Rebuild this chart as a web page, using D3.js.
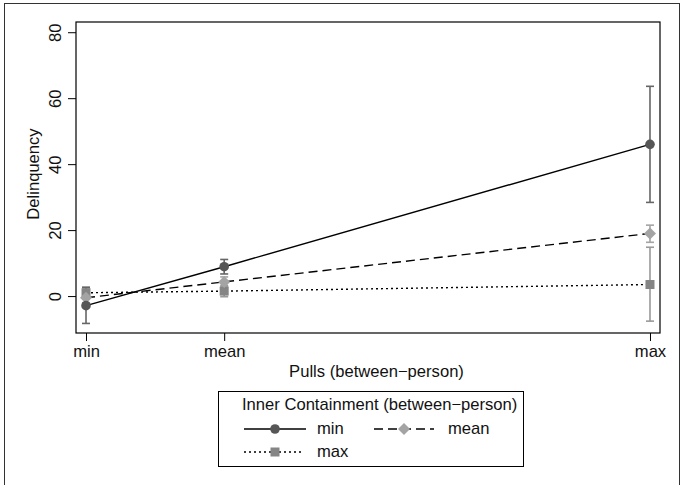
<!DOCTYPE html>
<html><head><meta charset="utf-8">
<script src="https://cdn.jsdelivr.net/npm/d3@7"></script>
<style>body{margin:0;background:#fff}svg{display:block}text{font-family:"Liberation Sans",Arial,Helvetica,sans-serif;fill:#111}</style>
</head><body><svg id="c" width="683" height="485"></svg>
<script>
const xCategories = ["min", "mean", "max"];
const xValues = [1, 1.98, 5];
const yTicks = [0, 20, 40, 60, 80];
const seriesNames = ["min", "mean", "max"];
const minEst = [-2.9, 8.9, 46.0];
const minLo = [-8.3, 6.7, 28.4];
const minHi = [2.5, 11.1, 63.6];
const meanEst = [-0.5, 4.3, 19.0];
const meanLo = [-2.0, 2.8, 16.3];
const meanHi = [1.0, 5.8, 21.5];
const maxEst = [1.0, 1.5, 3.5];
const maxLo = [-0.8, -0.2, -7.6];
const maxHi = [2.8, 3.2, 14.8];

const FS = 16.6;
const svg = d3.select("#c");
const L = 76, R = 660, T = 22, B = 333;
const x = d3.scaleLinear().domain([0.929, 5.071]).range([L, R]);
const y = d3.scaleLinear().domain([-11.2, 83.1]).range([B, T]);

// outer border
svg.append("rect").attr("x", 4.5).attr("y", 3.5).attr("width", 675).attr("height", 490)
  .attr("fill", "none").attr("stroke", "#333").attr("stroke-width", 1);

// plot frame
svg.append("rect").attr("x", L).attr("y", T).attr("width", R - L).attr("height", B - T)
  .attr("fill", "none").attr("stroke", "#000").attr("stroke-width", 1.2);

// y axis
const ya = svg.append("g").attr("transform", `translate(${L},0)`)
  .call(d3.axisLeft(y).tickValues(yTicks).tickSize(8).tickFormat(d3.format("d")));
ya.select(".domain").remove();
ya.selectAll(".tick line").attr("stroke", "#000");
ya.selectAll(".tick text")
  .attr("font-size", FS).attr("font-family", null).attr("fill", "#111")
  .attr("text-anchor", "middle").attr("x", 0).attr("y", 0).attr("dy", "0.35em")
  .attr("transform", "translate(-21,0) rotate(-90)");

// x axis
const xa = svg.append("g").attr("transform", `translate(0,${B})`)
  .call(d3.axisBottom(x).tickValues(xValues).tickSize(8).tickFormat((d, i) => xCategories[i]));
xa.select(".domain").remove();
xa.selectAll(".tick line").attr("stroke", "#000");
xa.selectAll(".tick text").attr("font-size", FS).attr("font-family", null).attr("fill", "#111")
  .attr("y", 23.7).attr("dy", null);

// axis titles
svg.append("text").attr("x", 376.5).attr("y", 377.3).attr("text-anchor", "middle").attr("font-size", FS)
  .text("Pulls (between\u2212person)");
svg.append("text").attr("transform", "translate(39,174) rotate(-90)").attr("text-anchor", "middle")
  .attr("font-size", FS).text("Delinquency");

const series = [
  {name: seriesNames[0], est: minEst, lo: minLo, hi: minHi, dash: null, marker: "circle", fill: "#565656", err: "#666"},
  {name: seriesNames[1], est: meanEst, lo: meanLo, hi: meanHi, dash: "9,5", marker: "diamond", fill: "#a4a4a4", err: "#a4a4a4"},
  {name: seriesNames[2], est: maxEst, lo: maxLo, hi: maxHi, dash: "2,3", marker: "square", fill: "#858585", err: "#999"}
];

const line = d3.line().x(d => x(d[0])).y(d => y(d[1]));
function drawMarker(g, type, cx, cy, fill) {
  if (type === "circle") g.append("circle").attr("cx", cx).attr("cy", cy).attr("r", 4.8).attr("fill", fill);
  else if (type === "diamond") g.append("path").attr("d", `M${cx},${cy-6}L${cx+6},${cy}L${cx},${cy+6}L${cx-6},${cy}Z`).attr("fill", fill);
  else g.append("rect").attr("x", cx-4.5).attr("y", cy-4.5).attr("width", 9).attr("height", 9).attr("fill", fill);
}

// lines
series.forEach(s => {
  svg.append("path").attr("d", line(xValues.map((v, i) => [v, s.est[i]])))
    .attr("fill", "none").attr("stroke", "#000").attr("stroke-width", 1.4)
    .attr("stroke-dasharray", s.dash);
});
// error bars
series.slice().reverse().forEach(s => {
  const g = svg.append("g").attr("stroke", s.err).attr("stroke-width", 1.6);
  xValues.forEach((v, i) => {
    const cx = x(v);
    g.append("line").attr("x1", cx).attr("x2", cx).attr("y1", y(s.lo[i])).attr("y2", y(s.hi[i]));
    g.append("line").attr("x1", cx-4).attr("x2", cx+4).attr("y1", y(s.lo[i])).attr("y2", y(s.lo[i]));
    g.append("line").attr("x1", cx-4).attr("x2", cx+4).attr("y1", y(s.hi[i])).attr("y2", y(s.hi[i]));
  });
});
// markers
series.slice().reverse().forEach(s => {
  const g = svg.append("g");
  xValues.forEach((v, i) => drawMarker(g, s.marker, x(v), y(s.est[i]), s.fill));
});

// legend
svg.append("rect").attr("x", 218.5).attr("y", 391.5).attr("width", 305).attr("height", 75)
  .attr("fill", "#fff").attr("stroke", "#000").attr("stroke-width", 1);
svg.append("text").attr("x", 242).attr("y", 410).attr("font-size", FS).text("Inner Containment (between\u2212person)");
const legPos = [[244, 429, 62], [374, 429, 60], [244, 452, 60]];
const legText = [317, 448, 317];
series.forEach((s, i) => {
  const [lx, ly, lw] = legPos[i];
  const g = svg.append("g");
  g.append("line").attr("x1", lx).attr("x2", lx + lw).attr("y1", ly).attr("y2", ly)
    .attr("stroke", "#000").attr("stroke-width", 1.4).attr("stroke-dasharray", s.dash);
  drawMarker(g, s.marker, i === 1 ? lx + 30 : lx + 31, ly, s.fill);
  g.append("text").attr("x", legText[i]).attr("y", ly + 5).attr("font-size", FS).text(s.name);
});
</script></body></html>
